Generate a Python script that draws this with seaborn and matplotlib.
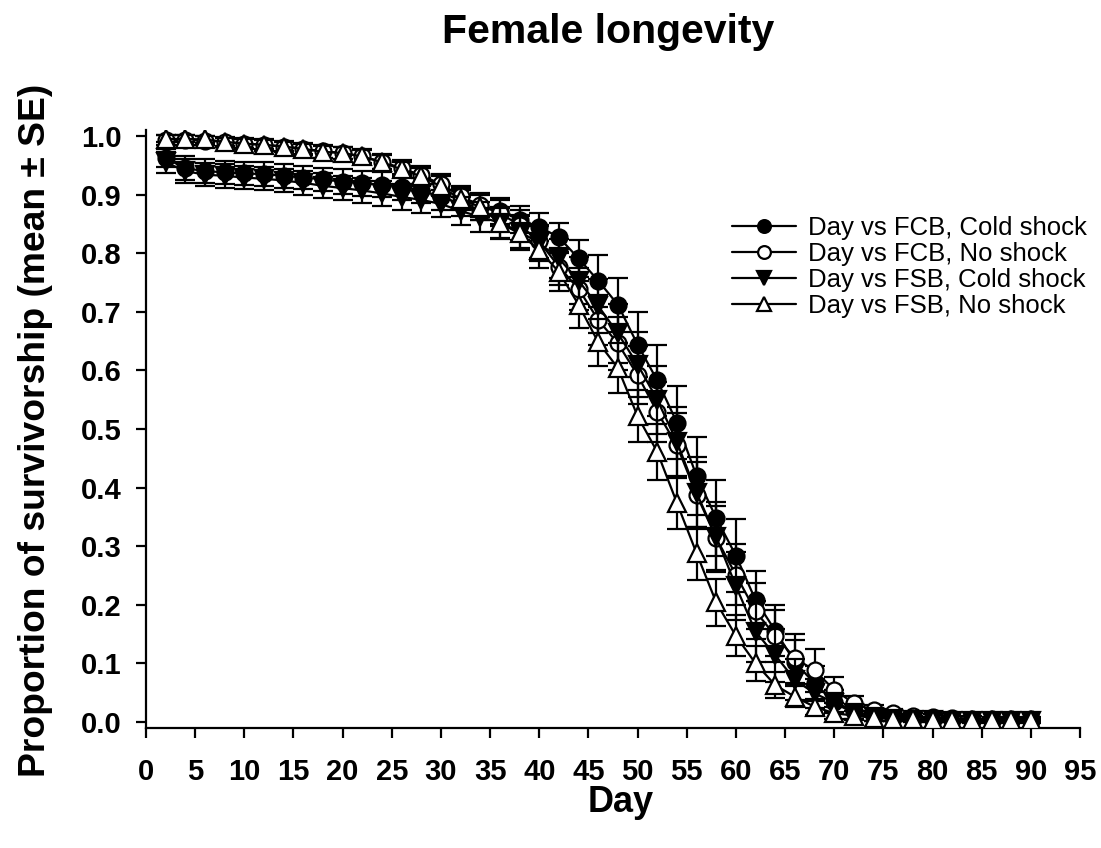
import numpy as np
import pandas as pd
import matplotlib
matplotlib.use("Agg")
import matplotlib.pyplot as plt
import seaborn as sns

sns.set_style("ticks")
plt.rcParams['font.family'] = ['Liberation Sans', 'DejaVu Sans']
plt.rcParams['text.color'] = 'black'
plt.rcParams['axes.labelcolor'] = 'black'
plt.rcParams['xtick.color'] = 'black'
plt.rcParams['ytick.color'] = 'black'

days = list(range(2, 91, 2))

fcb_cold = [0.962, 0.945, 0.940, 0.938, 0.936, 0.935, 0.932, 0.929, 0.926, 0.922,
            0.919, 0.917, 0.913, 0.907, 0.896, 0.885, 0.878, 0.872, 0.857, 0.845,
            0.827, 0.791, 0.753, 0.712, 0.644, 0.583, 0.511, 0.420, 0.348, 0.284,
            0.208, 0.156, 0.102, 0.066, 0.035, 0.018, 0.010, 0.007, 0.005, 0.004,
            0.003, 0.002, 0.002, 0.002, 0.002]
fcb_cold_se = [0.015, 0.020, 0.020, 0.020, 0.020, 0.020, 0.020, 0.020, 0.020, 0.021,
               0.021, 0.021, 0.022, 0.022, 0.022, 0.022, 0.022, 0.022, 0.023, 0.024,
               0.025, 0.031, 0.044, 0.046, 0.056, 0.060, 0.062, 0.066, 0.065, 0.062,
               0.050, 0.043, 0.038, 0.030, 0.020, 0.012, 0.008, 0.006, 0.005, 0.004,
               0.003, 0.003, 0.002, 0.002, 0.002]

fcb_no = [0.993, 0.993, 0.992, 0.990, 0.987, 0.985, 0.982, 0.978, 0.974, 0.971,
          0.965, 0.956, 0.945, 0.933, 0.918, 0.897, 0.882, 0.868, 0.848, 0.820,
          0.777, 0.739, 0.686, 0.646, 0.592, 0.529, 0.472, 0.388, 0.314, 0.251,
          0.189, 0.147, 0.109, 0.088, 0.055, 0.032, 0.020, 0.015, 0.010, 0.008,
          0.007, 0.006, 0.005, 0.005, 0.005]
fcb_no_se = [0.008, 0.008, 0.008, 0.009, 0.009, 0.010, 0.010, 0.010, 0.011, 0.011,
             0.012, 0.013, 0.014, 0.015, 0.017, 0.018, 0.020, 0.022, 0.025, 0.028,
             0.032, 0.036, 0.042, 0.045, 0.050, 0.052, 0.055, 0.056, 0.055, 0.052,
             0.048, 0.045, 0.042, 0.036, 0.022, 0.013, 0.009, 0.007, 0.006, 0.005,
             0.004, 0.004, 0.003, 0.003, 0.003]

fsb_cold = [0.955, 0.940, 0.934, 0.932, 0.929, 0.927, 0.924, 0.920, 0.915, 0.911,
            0.907, 0.902, 0.896, 0.891, 0.884, 0.872, 0.862, 0.852, 0.837, 0.817,
            0.791, 0.753, 0.710, 0.663, 0.610, 0.550, 0.478, 0.391, 0.316, 0.232,
            0.154, 0.114, 0.072, 0.049, 0.033, 0.015, 0.008, 0.006, 0.004, 0.003,
            0.002, 0.002, 0.001, 0.001, 0.001]
fsb_cold_se = [0.018, 0.020, 0.020, 0.020, 0.020, 0.020, 0.020, 0.021, 0.021, 0.021,
               0.022, 0.022, 0.022, 0.023, 0.023, 0.024, 0.025, 0.026, 0.028, 0.030,
               0.034, 0.040, 0.046, 0.050, 0.055, 0.058, 0.060, 0.062, 0.060, 0.058,
               0.052, 0.045, 0.035, 0.025, 0.016, 0.010, 0.007, 0.005, 0.004, 0.003,
               0.002, 0.002, 0.002, 0.002, 0.002]

fsb_no = [0.995, 0.995, 0.994, 0.990, 0.987, 0.985, 0.982, 0.978, 0.973, 0.971,
          0.965, 0.955, 0.943, 0.931, 0.914, 0.892, 0.879, 0.851, 0.834, 0.805,
          0.768, 0.712, 0.648, 0.604, 0.522, 0.461, 0.374, 0.288, 0.204, 0.147,
          0.100, 0.063, 0.043, 0.026, 0.015, 0.011, 0.007, 0.006, 0.005, 0.004,
          0.003, 0.003, 0.003, 0.003, 0.003]
fsb_no_se = [0.006, 0.006, 0.006, 0.007, 0.007, 0.008, 0.008, 0.009, 0.010, 0.010,
             0.011, 0.012, 0.013, 0.015, 0.017, 0.019, 0.022, 0.026, 0.029, 0.030,
             0.032, 0.040, 0.040, 0.042, 0.045, 0.048, 0.045, 0.045, 0.040, 0.035,
             0.030, 0.022, 0.018, 0.014, 0.010, 0.007, 0.005, 0.004, 0.003, 0.003,
             0.003, 0.003, 0.003, 0.003, 0.003]

labels = ["Day vs FCB, Cold shock", "Day vs FCB, No shock",
          "Day vs FSB, Cold shock", "Day vs FSB, No shock"]
values = [fcb_cold, fcb_no, fsb_cold, fsb_no]
errors = [fcb_cold_se, fcb_no_se, fsb_cold_se, fsb_no_se]
markers = ["o", "o", "v", "^"]
faces = ["black", "white", "black", "white"]
msizes = [11.5, 11.5, 13, 13]

W, H = 1101, 848
fig = plt.figure(figsize=(W / 100, H / 100), dpi=100)
ax = fig.add_axes([146 / W, 1 - 728 / H, (1080 - 146) / W, (728 - 130) / H])

for i, (lab, v, e, m, fc, ms) in enumerate(zip(labels, values, errors, markers, faces, msizes)):
    ax.errorbar(days, v, yerr=e, fmt="none", ecolor="black", elinewidth=1.6,
                capsize=7.5, capthick=1.6, zorder=2 + 2 * i)
    sns.lineplot(x=days, y=v, ax=ax, color="black", linewidth=1.6, marker=m,
                 markersize=ms, markerfacecolor=fc, markeredgecolor="black",
                 markeredgewidth=1.6, label=lab, zorder=3 + 2 * i)

ax.set_xlim(0, 95)
ax.set_ylim(-0.0102, 1.0102)
ax.set_xticks(range(0, 96, 5))
ax.set_yticks(np.round(np.arange(0, 1.01, 0.1), 1))
ax.set_yticklabels([f"{t:.1f}" for t in np.arange(0, 1.01, 0.1)])
sns.despine(ax=ax)
for s in ("left", "bottom"):
    ax.spines[s].set_linewidth(1.6)
    ax.spines[s].set_color("black")
ax.tick_params(axis="both", direction="out", length=7.4, width=1.6, color="black",
               labelsize=21, labelcolor="black")
ax.tick_params(axis="y", pad=10)
ax.tick_params(axis="x", pad=14)
for t in ax.get_xticklabels() + ax.get_yticklabels():
    t.set_fontweight("bold")
ax.set_xlabel("")
ax.set_ylabel("")

leg = ax.legend(loc="upper left", bbox_to_anchor=(732 / W, 1 - 216 / H),
                bbox_transform=fig.transFigure, frameon=False, fontsize=18.5,
                handlelength=2.5, handletextpad=0.45, labelspacing=0.08,
                markerscale=0.8, borderaxespad=0, borderpad=0)
for t in leg.get_texts():
    t.set_color("black")

fig.text(608 / W, 1 - 43 / H, "Female longevity", ha="center", va="baseline",
         fontsize=29.5, fontweight="bold")
fig.text(621 / W, 1 - 812 / H, "Day", ha="center", va="baseline",
         fontsize=26, fontweight="bold")
fig.text(36 / W, 1 - 430 / H, "Proportion of survivorship (mean ± SE)",
         ha="center", va="center", rotation=90, fontsize=26.8, fontweight="bold")

fig.savefig("out.png", dpi=100)
